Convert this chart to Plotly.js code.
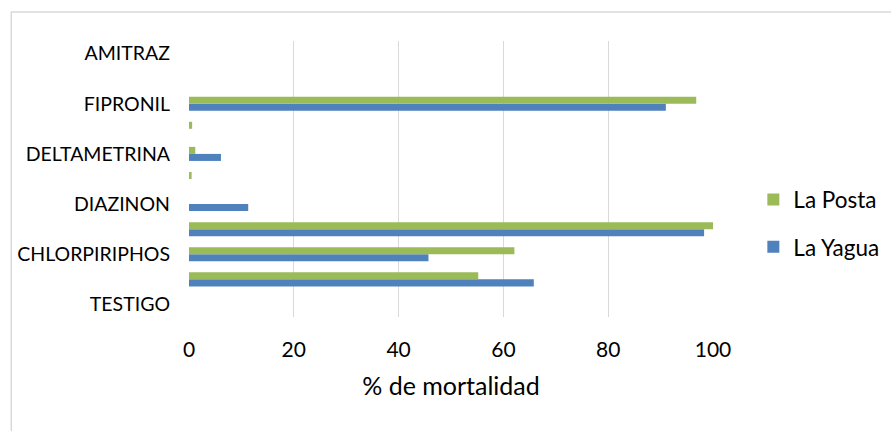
<!DOCTYPE html>
<html>
<head>
<meta charset="utf-8">
<script src="https://cdn.plot.ly/plotly-3.0.1.min.js"></script>
<style>html,body{margin:0;padding:0;background:#fff;}#chart{width:891px;height:431px;}</style>
</head>
<body>
<div id="chart"></div>
<script>
// Categories from bottom to top (Excel shows only every other label)
var categoryLabels = ["TESTIGO", "", "CHLORPIRIPHOS", "", "DIAZINON", "", "DELTAMETRINA", "", "FIPRONIL", "", "AMITRAZ"];
var seriesNames = ["La Yagua", "La Posta"];
var laYagua = [0, 65.8, 45.7, 98.3, 11.3, 0, 6.1, 0, 91.0, 0, 0];
var laPosta = [0, 55.2, 62.1, 100, 0, 0.5, 1.2, 0.6, 96.8, 0, 0];
var xTicks = [0, 20, 40, 60, 80, 100];

var positions = categoryLabels.map(function (_, i) { return i; });
var tickVals = [], tickText = [];
categoryLabels.forEach(function (l, i) { if (l) { tickVals.push(i); tickText.push(l); } });

var FONT = "Lato, 'Liberation Sans', sans-serif";
var traces = [
  {type: "bar", orientation: "h", name: seriesNames[0], x: laYagua, y: positions,
   marker: {color: "#4F81BD"}, legendgroup: "a", legendrank: 2, hoverinfo: "x"},
  {type: "bar", orientation: "h", name: seriesNames[1], x: laPosta, y: positions,
   marker: {color: "#9BBB59"}, legendgroup: "b", legendrank: 1, hoverinfo: "x"}
];

var layout = {
  width: 891, height: 431,
  margin: {l: 188.7, r: 178.3, t: 41, b: 114, pad: 0, autoexpand: false},
  paper_bgcolor: "#fff", plot_bgcolor: "#fff",
  font: {family: FONT, color: "#000"},
  barmode: "group", bargap: 0.44, bargroupgap: 0,
  showlegend: true,
  legend: {x: 1.077, xanchor: "left", y: 0.339, yanchor: "middle",
           traceorder: "grouped", tracegroupgap: 15,
           font: {size: 22.5, family: FONT, color: "#000"}, bgcolor: "rgba(0,0,0,0)"},
  xaxis: {range: [0, 100], tickvals: xTicks, showgrid: true, gridcolor: "#d9d9d9", gridwidth: 1.3,
          zeroline: false, showline: false, ticks: "", ticklabelstandoff: 18,
          tickfont: {size: 21, family: FONT, color: "#000"},
          title: {text: "% de mortalidad", font: {size: 25, family: FONT, color: "#000"}, standoff: 17},
          fixedrange: true},
  yaxis: {range: [-0.5, 10.5], tickvals: tickVals, ticktext: tickText, showgrid: false,
          zeroline: false, showline: false, ticks: "", ticklabelstandoff: 18,
          tickfont: {size: 19.5, family: FONT, color: "#000"}, fixedrange: true},
  shapes: [{type: "rect", xref: "paper", yref: "paper",
            x0: (11 - 188.7) / 524, x1: 2, y0: (317 - 12) / 276, y1: -2,
            line: {color: "#d9d9d9", width: 1.5}, fillcolor: "rgba(0,0,0,0)", layer: "below"}]
};

Plotly.newPlot("chart", traces, layout, {displayModeBar: false, staticPlot: true});
</script>
</body>
</html>
